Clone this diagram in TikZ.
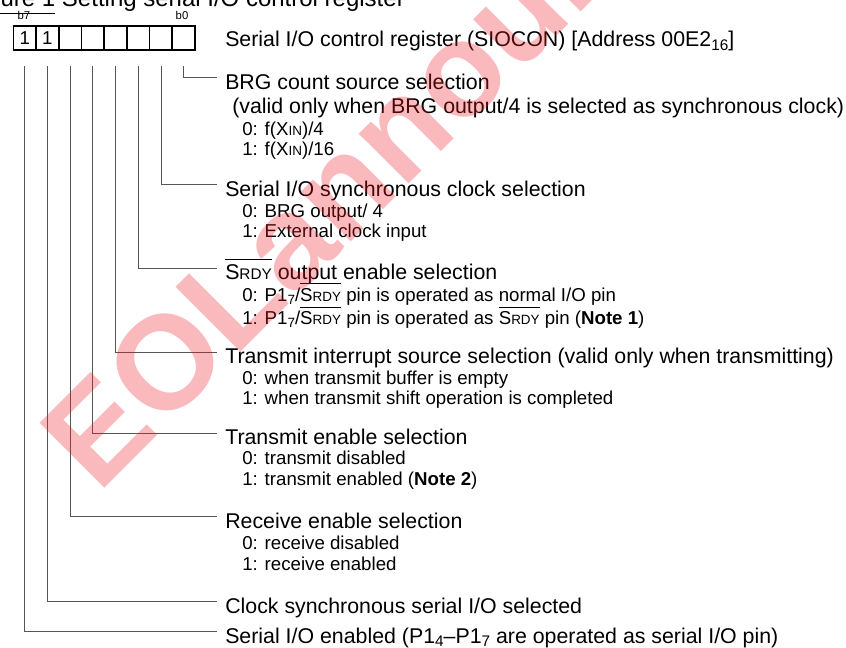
\documentclass[tikz,border=0pt]{standalone}
\usepackage{fontspec}
\setmainfont{Liberation Sans}
\usepackage{graphicx}
\usepackage{tikz}
\usetikzlibrary{positioning}
\definecolor{wiregray}{HTML}{555555}
\definecolor{stampred}{HTML}{EE1C24}
\newsavebox\barbox
\newcommand{\barred}[1]{\sbox\barbox{#1}\rlap{\rule[0.95em]{\wd\barbox}{0.5pt}}\usebox\barbox}
\newcommand{\sm}[1]{\scalebox{0.72}{#1}}
\newcommand{\lo}[1]{\raisebox{-0.3ex}{\scalebox{0.72}{#1}}}
\newcommand{\mainsize}{\fontsize{16}{18}\selectfont}
\newcommand{\subsize}{\fontsize{14}{15.4}\selectfont}

\begin{document}
\begin{tikzpicture}[x=0.75pt,y=0.75pt,
    cell/.style={draw,line width=1.3pt,minimum width=17pt,minimum height=18pt,inner sep=0pt,outer sep=0pt,font=\fontsize{14}{14}\selectfont},
    bitno/.style={font=\fontsize{8.5}{8.5}\selectfont},
    field/.style={anchor=base west,inner sep=0pt,font=\mainsize},
    choice/.style={anchor=base west,inner sep=0pt,align=left,font=\subsize},
    wire/.style={draw=wiregray,line width=0.6pt},
    stamp/.style={rotate=45,anchor=base west,inner sep=0pt,text=stampred,opacity=0.3,font=\fontsize{100}{100}\selectfont\bfseries}]
        \useasboundingbox (0,0) rectangle (846,-648);
        \clip (0,0) rectangle (846,-648);
        \node[field,font=\fontsize{18}{18}\selectfont] (title) at (-33,-6.5) {\underline{Figure 1} Setting serial I/O control register};
        \foreach \b/\v in {0/{},1/{},2/{},3/{},4/{},5/{},6/1,7/1}
          \node[cell] (c\b) at ({183.6-22.7*\b},-38) {\v};
        \node[bitno] (hi) at (24,-15) {b7};
        \node[bitno] (lo) at (182,-15) {b0};
        \node[field] (reg) at (225,-46.7) {Serial I/O control register (SIOCON) [Address 00E2\lo{16}]};
        % last line of each choice block sits on the base anchor
        \node[field] (l0) at (225,-89.3) {BRG count source selection};
        \node[field] (n0) at ([shift={(7,-24)}]l0.base west) {(valid only when BRG output/4 is selected as synchronous clock)};
        \node[choice] (s0) at ([shift={(10,-42.7)}]n0.base west) {0: f(X\sm{IN})/4\\1: f(X\sm{IN})/16};
        \node[field] (l1) at (225,-196.7) {Serial I/O synchronous clock selection};
        \node[choice] (s1) at ([shift={(17,-41.3)}]l1.base west) {0: BRG output/ 4\\1: External clock input};
        \node[field] (l2) at (225,-280) {\barred{S\sm{RDY}} output enable selection};
        \node[choice] (s2) at ([shift={(17,-45)}]l2.base west) {0: P1\lo{7}/\barred{S\sm{RDY}} pin is operated as normal I/O pin\\1: P1\lo{7}/\barred{S\sm{RDY}} pin is operated as \barred{S\sm{RDY}} pin (\textbf{Note 1})};
        \node[field] (l3) at (225,-364) {Transmit interrupt source selection (valid only when transmitting)};
        \node[choice] (s3) at ([shift={(17,-41)}]l3.base west) {0: when transmit buffer is empty\\1: when transmit shift operation is completed};
        \node[field] (l4) at (225,-445) {Transmit enable selection};
        \node[choice] (s4) at ([shift={(17,-40)}]l4.base west) {0: transmit disabled\\1: transmit enabled (\textbf{Note 2})};
        \node[field] (l5) at (225,-528) {Receive enable selection};
        \node[choice] (s5) at ([shift={(17,-42)}]l5.base west) {0: receive disabled\\1: receive enabled};
        \node[field] (l6) at (225,-613) {Clock synchronous serial I/O selected};
        \node[field] (l7) at (225,-643) {Serial I/O enabled (P1\lo{4}–P1\lo{7} are operated as serial I/O pin)};
        \foreach \b in {0,...,7}
          \draw[wire] ([yshift=-12pt]c\b.south) |- ([shift={(-8,12)}]l\b.base west);
        \node[stamp] (stamp) at (98,-495) {EOLannounced};
      \end{tikzpicture}
\end{document}
